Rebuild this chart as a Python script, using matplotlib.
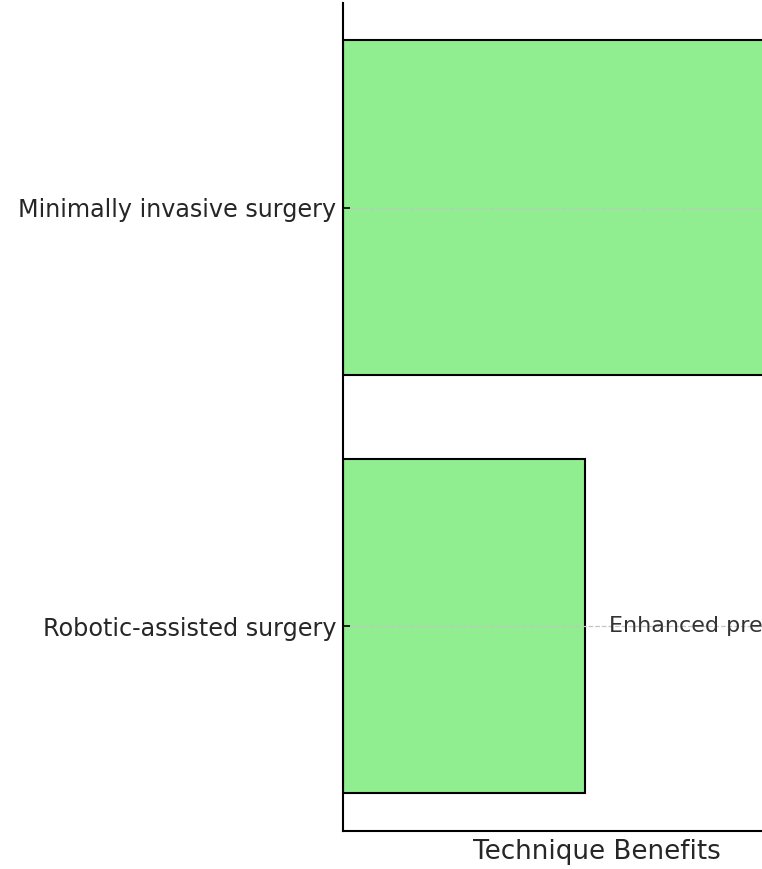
import matplotlib
matplotlib.use("Agg")
import matplotlib.pyplot as plt

techniques = ["Robotic-assisted surgery", "Minimally invasive surgery"]
scores = [1, 2]
benefits = ["Enhanced precision and control", "Reduced recovery time and scarring"]

fig = plt.figure(figsize=(7.62, 8.69), dpi=100)
ax = fig.add_axes([0.4501, 0.0437, 0.6667, 0.9532])

bars = ax.barh(techniques, scores, height=0.8, color="lightgreen", edgecolor="black", linewidth=1.5)
for i, (v, txt) in enumerate(zip(scores, benefits)):
    ax.text(v + 0.1, i, txt, va="center", ha="left", fontsize=16, color="#333333")

ax.set_xlabel("Technique Benefits", fontsize=18.8, color="#262626", labelpad=6)
ax.set_xticks([])
ax.tick_params(axis="y", labelsize=17.2, labelcolor="#262626", direction="in",
               length=5, width=1.2, pad=5)
ax.grid(axis="y", linestyle="--", color="#c4c4c4", linewidth=0.9)
ax.set_axisbelow(False)
ax.spines["top"].set_visible(False)
ax.spines["right"].set_visible(False)
ax.spines["left"].set_linewidth(1.5)
ax.spines["bottom"].set_linewidth(1.5)

fig.savefig("out.png", dpi=100)
